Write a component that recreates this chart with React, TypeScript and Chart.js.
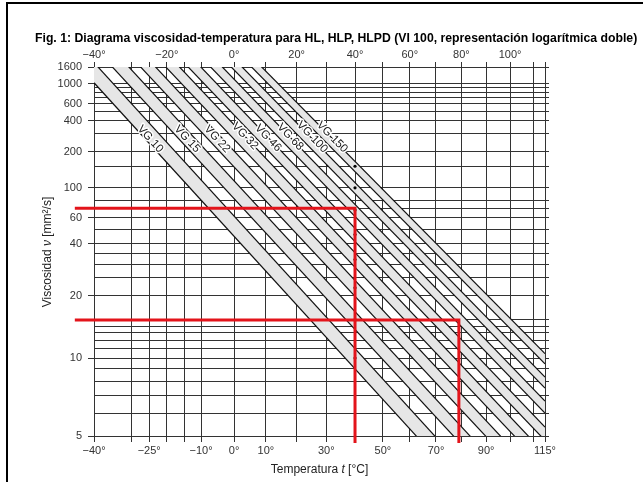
import React, { useEffect, useRef } from 'react';
import { Chart, registerables, LinearScale } from 'chart.js';

// ---------- texts ----------
const chartTitle =
  'Fig. 1: Diagrama viscosidad-temperatura para HL, HLP, HLPD (VI 100, representación logarítmica doble)';
const xAxisTitleParts = ['Temperatura ', 't', ' [°C]'];
const yAxisTitleParts = ['Viscosidad ', 'ν', ' [mm²/s]'];

// ---------- axes ----------
const tempMin = -40;
const tempMax = 115;
const viscMin = 5;
const viscMax = 1600;
const tempGridTicks = [-40, -30, -25, -20, -15, -10, 0, 10, 20, 30, 40, 50, 60, 70, 80, 90, 100, 110, 115];
const tempTopLabels = [-40, -20, 0, 20, 40, 60, 80, 100];
const tempBottomLabels = [-40, -25, -10, 0, 10, 30, 50, 70, 90, 115];
const viscGridTicks = [5, 6, 7, 8, 9, 10, 11, 12, 13, 14, 15, 20, 25, 30, 35, 40, 50, 60, 70, 80, 100, 150, 200, 300, 400, 500, 600, 700, 800, 900, 1000, 1600];
const viscLabels = [5, 10, 20, 40, 60, 100, 200, 400, 600, 1000, 1600];

// ---------- VG bands (lower / upper limit lines, ±10 % at 40 °C) ----------
const vgGrades = ['VG 10', 'VG 15', 'VG 22', 'VG 32', 'VG 46', 'VG 68', 'VG 100', 'VG 150'];
const vgNominal40 = [10, 15, 22, 32, 46, 68, 100, 150];
const bandStartTemp = [-40, -40, -30, -25, -20, -10, -5, 0];
const bandEndTemp = [75, 90, 100, 115, 115, 115, 115, 115];
const lowerStartVisc = [1032, 2897, 2154, 2700, 3129, 2134, 2402, 2703];
const upperStartVisc = [1818, 5124, 3522, 4266, 4782, 3088, 3388, 3727];
const lowerEndVisc = [3.82, 3.83, 4.09, 3.91, 4.83, 6.03, 7.51, 9.44];
const upperEndVisc = [4.44, 4.37, 4.61, 4.36, 5.37, 6.69, 8.32, 10.46];
const labelTemp = [-24.7, -14.1, -5.2, 3.4, 10.7, 17.9, 25.2, 32.0];
const labelVisc = [263, 263, 263, 281, 269, 275, 275, 275];

// ---------- red reading lines ----------
const redLine1Temp = [-45, 40, 40];
const redLine1Visc = [70, 70, 4.73];
const redLine2Temp = [-45, 79, 79];
const redLine2Visc = [15, 15, 4.73];

// ---------- custom scales (log absolute temperature / Walther log-log viscosity) ----------
const fwdTemp = (t: number) => Math.log10(t + 273.15);
const invTemp = (u: number) => Math.pow(10, u) - 273.15;
const fwdVisc = (v: number) => Math.log10(Math.log10(v + 0.8));
const invVisc = (w: number) => Math.pow(10, Math.pow(10, w)) - 0.8;

function makeScale(id: string, fwd: (v: number) => number, inv: (v: number) => number) {
  class TransformScale extends LinearScale {
    static id = id;
    configure() {
      super.configure();
      (this as any)._fStart = fwd(this.min);
      (this as any)._fRange = fwd(this.max) - (this as any)._fStart;
    }
    getPixelForValue(value: any) {
      if (value === null || value === undefined || !isFinite(value)) return NaN;
      return this.getPixelForDecimal((fwd(value) - (this as any)._fStart) / (this as any)._fRange);
    }
    getValueForPixel(pixel: number) {
      return inv((this as any)._fStart + this.getDecimalForPixel(pixel) * (this as any)._fRange);
    }
  }
  return TransformScale;
}
const TempScale = makeScale('logkelvin', fwdTemp, invTemp);
const ViscScale = makeScale('walther', fwdVisc, invVisc);

Chart.register(...registerables, TempScale as any, ViscScale as any);

const FONT = '"Liberation Sans", Arial, Helvetica, sans-serif';
const GRID = '#333333';
const LINE = '#111111';
const BAND = '#e6e6e6';
const RED = '#e3141b';

const degLabel = (v: number) => (v < 0 ? '\u2212' + Math.abs(v) : String(v)) + '°';

const vgLabelPlugin = {
  id: 'vgLabels',
  afterDatasetsDraw(chart: any) {
    const { ctx, scales } = chart;
    const xs = scales.x;
    const ys = scales.y;
    ctx.save();
    ctx.font = `11.5px ${FONT}`;
    ctx.textAlign = 'center';
    ctx.textBaseline = 'middle';
    vgGrades.forEach((g, i) => {
      const x1 = xs.getPixelForValue(bandStartTemp[i]);
      const y1 = ys.getPixelForValue(upperStartVisc[i]);
      const x2 = xs.getPixelForValue(bandEndTemp[i]);
      const y2 = ys.getPixelForValue(upperEndVisc[i]);
      const ang = Math.atan2(y2 - y1, x2 - x1);
      const px = xs.getPixelForValue(labelTemp[i]);
      const py = ys.getPixelForValue(labelVisc[i]);
      ctx.save();
      ctx.translate(px, py);
      ctx.rotate(ang);
      ctx.lineJoin = 'round';
      ctx.lineWidth = 3;
      ctx.strokeStyle = '#ffffff';
      ctx.strokeText(g, 0, 0);
      ctx.fillStyle = '#222222';
      ctx.fillText(g, 0, 0);
      ctx.restore();
    });
    ctx.restore();
  },
};

export default function App() {
  const canvasRef = useRef<HTMLCanvasElement | null>(null);

  useEffect(() => {
    const datasets: any[] = [];
    datasets.push({
      label: 'red1',
      data: redLine1Temp.map((t, i) => ({ x: t, y: redLine1Visc[i] })),
      borderColor: RED,
      borderWidth: 3,
      pointRadius: 0,
      fill: false,
      clip: false,
      borderJoinStyle: 'miter',
    });
    datasets.push({
      label: 'red2',
      data: redLine2Temp.map((t, i) => ({ x: t, y: redLine2Visc[i] })),
      borderColor: RED,
      borderWidth: 3,
      pointRadius: 0,
      fill: false,
      clip: false,
      borderJoinStyle: 'miter',
    });
    datasets.push({
      label: 'dots',
      data: vgNominal40.map((v) => ({ x: 40, y: v })),
      showLine: false,
      pointRadius: 1.6,
      pointBorderWidth: 0,
      pointBackgroundColor: '#000',
      fill: false,
    });
    vgGrades.forEach((g, i) => {
      datasets.push({
        label: g + ' max',
        data: [
          { x: bandStartTemp[i], y: upperStartVisc[i] },
          { x: bandEndTemp[i], y: upperEndVisc[i] },
        ],
        borderColor: LINE,
        borderWidth: 1.2,
        pointRadius: 0,
        backgroundColor: BAND,
        fill: '+1',
      });
      datasets.push({
        label: g + ' min',
        data: [
          { x: bandStartTemp[i], y: lowerStartVisc[i] },
          { x: bandEndTemp[i], y: lowerEndVisc[i] },
        ],
        borderColor: LINE,
        borderWidth: 1.2,
        pointRadius: 0,
        fill: false,
      });
    });
    datasets.forEach((d) => {
      d.xAxisID = 'x';
      d.yAxisID = 'y';
    });

    const tickFont = { family: FONT, size: 11 };

    const chart = new Chart(canvasRef.current as HTMLCanvasElement, {
      type: 'line',
      data: { datasets },
      plugins: [vgLabelPlugin],
      options: {
        animation: false,
        responsive: false,
        devicePixelRatio: 1,
        events: [],
        layout: { padding: { left: 35, top: 47, right: 93, bottom: 0 } },
        plugins: {
          legend: { display: false },
          tooltip: { enabled: false },
          title: { display: false },
          filler: { drawTime: 'beforeDatasetsDraw' },
        },
        scales: {
          x: {
            type: 'logkelvin',
            position: 'bottom',
            min: tempMin,
            max: tempMax,
            afterBuildTicks: (s: any) => {
              s.ticks = tempGridTicks.map((v) => ({ value: v }));
            },
            afterFit: (s: any) => {
              s.height = 46;
            },
            ticks: {
              autoSkip: false,
              maxRotation: 0,
              minRotation: 0,
              padding: 2,
              color: '#333',
              font: tickFont,
              callback: (v: any) => (tempBottomLabels.includes(v) ? degLabel(v) : ''),
            },
            grid: { color: GRID, lineWidth: 1, tickLength: 6, tickColor: GRID },
            border: { display: true, color: GRID, width: 1 },
          },
          xTop: {
            type: 'logkelvin',
            position: 'top',
            min: tempMin,
            max: tempMax,
            afterBuildTicks: (s: any) => {
              s.ticks = tempGridTicks.map((v) => ({ value: v }));
            },
            afterFit: (s: any) => {
              s.height = 20;
            },
            ticks: {
              autoSkip: false,
              maxRotation: 0,
              minRotation: 0,
              padding: 0,
              color: '#333',
              font: tickFont,
              callback: (v: any) => (tempTopLabels.includes(v) ? degLabel(v) : ''),
            },
            grid: { drawOnChartArea: false, color: GRID, tickLength: 5, tickColor: GRID },
            border: { display: true, color: GRID, width: 1 },
          },
          y: {
            type: 'walther',
            position: 'left',
            min: viscMin,
            max: viscMax,
            afterBuildTicks: (s: any) => {
              s.ticks = viscGridTicks.map((v) => ({ value: v }));
            },
            afterFit: (s: any) => {
              s.width = 59;
            },
            ticks: {
              autoSkip: false,
              padding: 6,
              color: '#333',
              font: tickFont,
              callback: (v: any) => (viscLabels.includes(v) ? String(v) : ''),
            },
            grid: {
              color: GRID,
              lineWidth: 1,
              tickLength: 6,
              tickColor: (c: any) => (c.tick && viscLabels.includes(c.tick.value) ? GRID : 'rgba(0,0,0,0)'),
            },
            border: { display: true, color: GRID, width: 1 },
          },
          yRight: {
            type: 'walther',
            position: 'right',
            min: viscMin,
            max: viscMax,
            afterBuildTicks: (s: any) => {
              s.ticks = viscGridTicks.map((v) => ({ value: v }));
            },
            afterFit: (s: any) => {
              s.width = 5;
            },
            ticks: { display: false },
            grid: { drawOnChartArea: false, color: GRID, tickLength: 4, tickColor: GRID },
            border: { display: true, color: GRID, width: 1 },
          },
        },
      } as any,
    });
    return () => chart.destroy();
  }, []);

  const axisTitleStyle: React.CSSProperties = {
    position: 'absolute',
    font: `12px ${FONT}`,
    lineHeight: '14px',
    whiteSpace: 'nowrap',
    color: '#222',
  };

  return (
    <div
      style={{
        position: 'absolute',
        left: 0,
        top: 0,
        width: 643,
        height: 482,
        background: '#fff',
        overflow: 'hidden',
      }}
    >
      <canvas
        ref={canvasRef}
        width={643}
        height={482}
        style={{ position: 'absolute', left: 0, top: 0, width: 643, height: 482 }}
      />
      <div
        style={{
          position: 'absolute',
          left: 6,
          top: 2,
          right: 0,
          bottom: 0,
          borderLeft: '2px solid #000',
          borderTop: '2px solid #000',
          pointerEvents: 'none',
        }}
      />
      <div
        style={{
          position: 'absolute',
          left: 35,
          top: 31,
          font: `bold 12.25px ${FONT}`,
          lineHeight: '14px',
          whiteSpace: 'nowrap',
          color: '#000',
        }}
      >
        {chartTitle}
      </div>
      <div
        style={{
          ...axisTitleStyle,
          left: 319.5,
          top: 469,
          transform: 'translate(-50%, -50%)',
        }}
      >
        {xAxisTitleParts[0]}
        <i>{xAxisTitleParts[1]}</i>
        {xAxisTitleParts[2]}
      </div>
      <div
        style={{
          ...axisTitleStyle,
          left: 47,
          top: 251.5,
          transform: 'translate(-50%, -50%) rotate(-90deg)',
        }}
      >
        {yAxisTitleParts[0]}
        <i>{yAxisTitleParts[1]}</i>
        {yAxisTitleParts[2]}
      </div>
    </div>
  );
}
